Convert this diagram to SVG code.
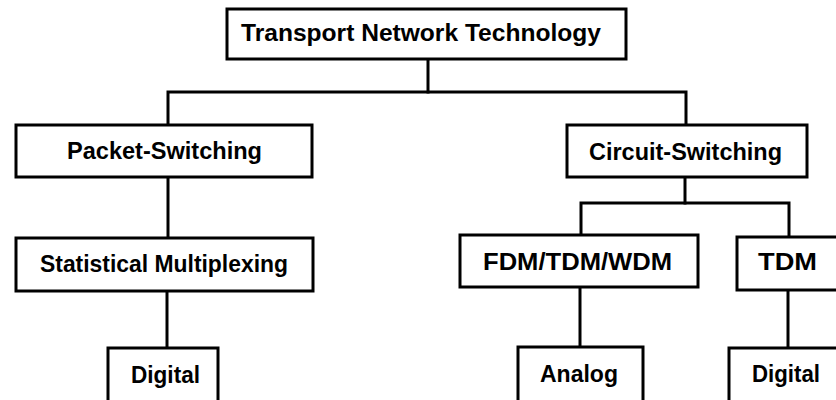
<svg xmlns="http://www.w3.org/2000/svg" width="836" height="400" viewBox="0 0 836 400">
  <style>
    .box { fill: #ffffff; stroke: #000000; stroke-width: 3; }
    .lbl { font-family: "Liberation Sans", Arial, Helvetica, sans-serif; font-weight: bold; font-size: 23px; fill: #000000; text-anchor: middle; }
    .wire { fill: none; stroke: #000000; stroke-width: 3; stroke-linecap: square; }
  </style>
  <rect width="836" height="400" fill="#ffffff"/>

  <!-- tree connectors -->
  <g id="connectors">
    <path class="wire" d="M428 59 V92"/>
    <path class="wire" d="M168 125 V92 H686 V125"/>
    <path class="wire" d="M168 177 V238"/>
    <path class="wire" d="M167 291 V348"/>
    <path class="wire" d="M685 177 V203"/>
    <path class="wire" d="M581 235 V203 H789 V237"/>
    <path class="wire" d="M580 287 V347"/>
    <path class="wire" d="M788 290 V348"/>
  </g>

  <g id="transport-network-technology">
    <rect class="box" x="227" y="9" width="399" height="50"/>
    <text class="lbl" x="421" y="41" textLength="360" lengthAdjust="spacingAndGlyphs">Transport Network Technology</text>
  </g>

  <g id="packet-switching">
    <rect class="box" x="16" y="125" width="296" height="52"/>
    <text class="lbl" x="164.5" y="159" textLength="195" lengthAdjust="spacingAndGlyphs">Packet-Switching</text>
  </g>

  <g id="statistical-multiplexing">
    <rect class="box" x="16" y="238" width="297" height="53"/>
    <text class="lbl" x="164" y="272" textLength="248" lengthAdjust="spacingAndGlyphs">Statistical Multiplexing</text>
  </g>

  <g id="digital-packet">
    <rect class="box" x="108" y="348" width="110" height="60"/>
    <text class="lbl" x="165.5" y="383" textLength="69" lengthAdjust="spacingAndGlyphs">Digital</text>
  </g>

  <g id="circuit-switching">
    <rect class="box" x="567" y="125" width="240" height="52"/>
    <text class="lbl" x="685.5" y="160" textLength="193" lengthAdjust="spacingAndGlyphs">Circuit-Switching</text>
  </g>

  <g id="fdm-tdm-wdm">
    <rect class="box" x="460" y="235" width="238" height="52"/>
    <text class="lbl" x="577.5" y="270" textLength="189" lengthAdjust="spacingAndGlyphs">FDM/TDM/WDM</text>
  </g>

  <g id="tdm">
    <rect class="box" x="737" y="237" width="110" height="53"/>
    <text class="lbl" x="787.5" y="270" textLength="59" lengthAdjust="spacingAndGlyphs">TDM</text>
  </g>

  <g id="analog">
    <rect class="box" x="518" y="347" width="125" height="60"/>
    <text class="lbl" x="579" y="382" textLength="78" lengthAdjust="spacingAndGlyphs">Analog</text>
  </g>

  <g id="digital-circuit">
    <rect class="box" x="729" y="348" width="120" height="60"/>
    <text class="lbl" x="786" y="382" textLength="68" lengthAdjust="spacingAndGlyphs">Digital</text>
  </g>
</svg>
